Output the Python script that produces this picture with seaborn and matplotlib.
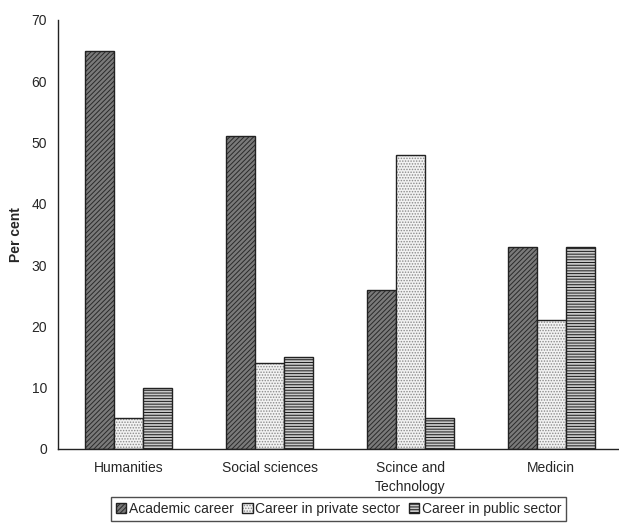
import matplotlib
matplotlib.use("Agg")
import matplotlib.pyplot as plt
import seaborn as sns
import pandas as pd

categories = ["Humanities", "Social sciences", "Scince and\nTechnology", "Medicin"]
series = ["Academic career", "Career in private sector", "Career in public sector"]
academic = [65, 51, 26, 33]
private = [5, 14, 48, 21]
public = [10, 15, 5, 33]

rows = []
for i, c in enumerate(categories):
    rows.append((c, series[0], academic[i]))
    rows.append((c, series[1], private[i]))
    rows.append((c, series[2], public[i]))
df = pd.DataFrame(rows, columns=["cat", "series", "value"])

sns.set_style("white")
plt.rcParams["font.family"] = ["Liberation Sans", "DejaVu Sans"]
plt.rcParams["hatch.linewidth"] = 0.7

fig = plt.figure(figsize=(6.19, 5.25), dpi=100)
ax = fig.add_axes([0.094, 0.145, 0.906, 0.817])

sns.barplot(data=df, x="cat", y="value", hue="series", order=categories,
            hue_order=series, width=0.62, legend=False, ax=ax,
            palette=["#888888", "#ffffff", "#d8d8d8"], saturation=1)

styles = [
    dict(fc="#7a7a7a", hatch="///////", hc="#2a2a2a"),
    dict(fc="#f2f2f2", hatch="......", hc="#8a8a8a"),
    dict(fc="#c8c8c8", hatch="------", hc="#1a1a1a"),
]
for cont, st in zip(ax.containers, styles):
    for p in cont.patches:
        p.set_facecolor(st["fc"])
        p.set_hatch(st["hatch"])
        p.set_edgecolor("#222222")
        p._hatch_color = matplotlib.colors.to_rgba(st["hc"])
        p.set_linewidth(1.0)

fs = 10
ax.set_ylim(0, 70)
ax.set_xlim(-0.5, 3.48)
ax.set_yticks(range(0, 71, 10))
ax.set_xticks(range(4))
ax.set_xticklabels(categories, fontsize=fs, linespacing=1.45)
ax.tick_params(axis="x", which="major", length=0, pad=9)
ax.set_xticks([-0.5, 0.5, 1.5, 2.5], minor=True)
ax.tick_params(axis="x", which="minor", length=8, direction="inout", width=1, color="#222222")
ax.tick_params(axis="y", length=5, direction="out", width=1, labelsize=fs, color="#222222", pad=3)
ax.set_xlabel("")
ax.set_ylabel("Per cent", fontsize=fs, fontweight="bold", labelpad=6)
for s in ["top", "right"]:
    ax.spines[s].set_visible(False)
for s in ["left", "bottom"]:
    ax.spines[s].set_color("#222222")
    ax.spines[s].set_linewidth(1.0)

leg = ax.legend(ax.containers, series, loc="upper center", bbox_to_anchor=(0.5, -0.112),
                ncol=3, frameon=True, fancybox=False, fontsize=fs, handlelength=0.75,
                handleheight=0.75, handletextpad=0.2, columnspacing=0.6, borderpad=0.35,
                borderaxespad=0)
leg.get_frame().set_edgecolor("#222222")
leg.get_frame().set_linewidth(1.0)

fig.savefig("out.png", dpi=100)
